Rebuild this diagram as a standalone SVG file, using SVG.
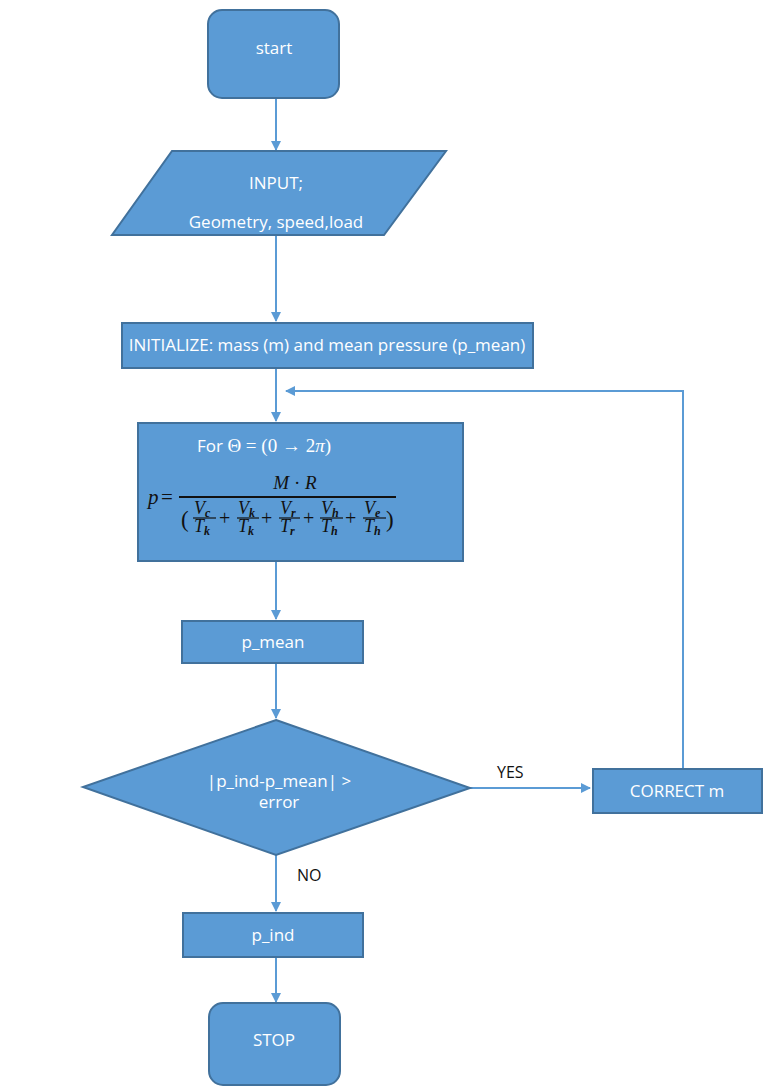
<svg xmlns="http://www.w3.org/2000/svg" width="763" height="1086" viewBox="0 0 763 1086">
<defs>
<marker id="arr" markerWidth="10" markerHeight="10" refX="9" refY="5" orient="auto" markerUnits="userSpaceOnUse">
<path d="M0,0 L10,5 L0,10 Z" fill="#5b9bd5"/>
</marker>
<style>
.node{fill:#5b9bd5;stroke:#41719c;stroke-width:2}
.t{font-family:"Open Sans","Liberation Sans",sans-serif;font-size:17px;fill:#ffffff;text-anchor:middle}
.lbl{font-family:"Open Sans","Liberation Sans",sans-serif;font-size:16px;fill:#111111}
.c{stroke:#5b9bd5;stroke-width:2;fill:none}
.m{font-family:"Liberation Serif",serif;font-style:italic;fill:#111111}
.mu{font-family:"Liberation Serif",serif;fill:#111111}
.fl{stroke:#111111;stroke-width:1.2}
</style>
</defs>
<rect width="763" height="1086" fill="#ffffff"/>
<g id="connectors">
<line class="c" x1="276" y1="98" x2="276" y2="150" marker-end="url(#arr)"/>
<line class="c" x1="276" y1="235" x2="276" y2="321" marker-end="url(#arr)"/>
<line class="c" x1="276" y1="368" x2="276" y2="421" marker-end="url(#arr)"/>
<polyline class="c" points="683,769 683,391 286,391" marker-end="url(#arr)"/>
<line class="c" x1="276" y1="561" x2="276" y2="619" marker-end="url(#arr)"/>
<line class="c" x1="276" y1="663" x2="276" y2="718" marker-end="url(#arr)"/>
<line class="c" x1="470" y1="788" x2="590" y2="788" marker-end="url(#arr)"/>
<line class="c" x1="276" y1="855" x2="276" y2="911" marker-end="url(#arr)"/>
<line class="c" x1="276" y1="957" x2="276" y2="1002" marker-end="url(#arr)"/>
<text class="lbl" x="497" y="778">YES</text>
<text class="lbl" x="297" y="881">NO</text>
</g>
<g id="start">
<rect class="node" x="208" y="10" width="131" height="88" rx="14"/>
<text class="t" x="274" y="54">start</text>
</g>
<g id="input">
<polygon class="node" points="172,151 446,151 384,235 112,235"/>
<text class="t" x="276" y="189">INPUT;</text>
<text class="t" x="276" y="228">Geometry, speed,load</text>
</g>
<g id="initialize">
<rect class="node" x="122" y="323" width="411" height="45"/>
<text class="t" x="327" y="351">INITIALIZE: mass (m) and mean pressure (p_mean)</text>
</g>
<g id="formula">
<rect class="node" x="138" y="423" width="325" height="138"/>
<text x="197" y="452" style="font-family:'Open Sans','Liberation Sans',sans-serif;font-size:17px;fill:#ffffff">For <tspan style="font-family:'Liberation Serif',serif;font-size:19px">Θ = (0 → 2<tspan font-style="italic">π</tspan>)</tspan></text>
<text class="m" x="148" y="504" font-size="21">p</text>
<text class="mu" x="161" y="504" font-size="21">=</text>
<text class="m" x="295" y="489" font-size="19" text-anchor="middle">M <tspan font-style="normal">·</tspan> R</text>
<line x1="179" y1="497" x2="396" y2="497" stroke="#111111" stroke-width="1.8"/>
<text class="mu" x="181" y="527" font-size="23">(</text>
<g font-size="18">
<text class="m" x="194" y="514">V<tspan font-size="12" font-weight="bold" dy="3">c</tspan></text>
<line class="fl" x1="193" y1="518" x2="216" y2="518"/>
<text class="m" x="194" y="532">T<tspan font-size="12" font-weight="bold" dy="3">k</tspan></text>
<text class="mu" x="219" y="525" font-size="20">+</text>
<text class="m" x="238" y="514">V<tspan font-size="12" font-weight="bold" dy="3">k</tspan></text>
<line class="fl" x1="237" y1="518" x2="259" y2="518"/>
<text class="m" x="238" y="532">T<tspan font-size="12" font-weight="bold" dy="3">k</tspan></text>
<text class="mu" x="261" y="525" font-size="20">+</text>
<text class="m" x="280" y="514">V<tspan font-size="12" font-weight="bold" dy="3">r</tspan></text>
<line class="fl" x1="279" y1="518" x2="300" y2="518"/>
<text class="m" x="280" y="532">T<tspan font-size="12" font-weight="bold" dy="3">r</tspan></text>
<text class="mu" x="303" y="525" font-size="20">+</text>
<text class="m" x="321" y="514">V<tspan font-size="12" font-weight="bold" dy="3">h</tspan></text>
<line class="fl" x1="320" y1="518" x2="343" y2="518"/>
<text class="m" x="321" y="532">T<tspan font-size="12" font-weight="bold" dy="3">h</tspan></text>
<text class="mu" x="345" y="525" font-size="20">+</text>
<text class="m" x="364" y="514">V<tspan font-size="12" font-weight="bold" dy="3">e</tspan></text>
<line class="fl" x1="363" y1="518" x2="386" y2="518"/>
<text class="m" x="364" y="532">T<tspan font-size="12" font-weight="bold" dy="3">h</tspan></text>
</g>
<text class="mu" x="386" y="527" font-size="23">)</text>
</g>
<g id="pmean">
<rect class="node" x="182" y="621" width="181" height="42"/>
<text class="t" x="273" y="648">p_mean</text>
</g>
<g id="decision">
<polygon class="node" points="276,720 470,788 276,855 83,787"/>
<text class="t" x="279" y="787">|p_ind-p_mean| &gt;</text>
<text class="t" x="279" y="808">error</text>
</g>
<g id="correct">
<rect class="node" x="593" y="769" width="169" height="44"/>
<text class="t" x="677" y="797">CORRECT m</text>
</g>
<g id="pind">
<rect class="node" x="183" y="913" width="180" height="44"/>
<text class="t" x="273" y="941">p_ind</text>
</g>
<g id="stop">
<rect class="node" x="209" y="1003" width="131" height="82" rx="14"/>
<text class="t" x="274" y="1046">STOP</text>
</g>
</svg>
